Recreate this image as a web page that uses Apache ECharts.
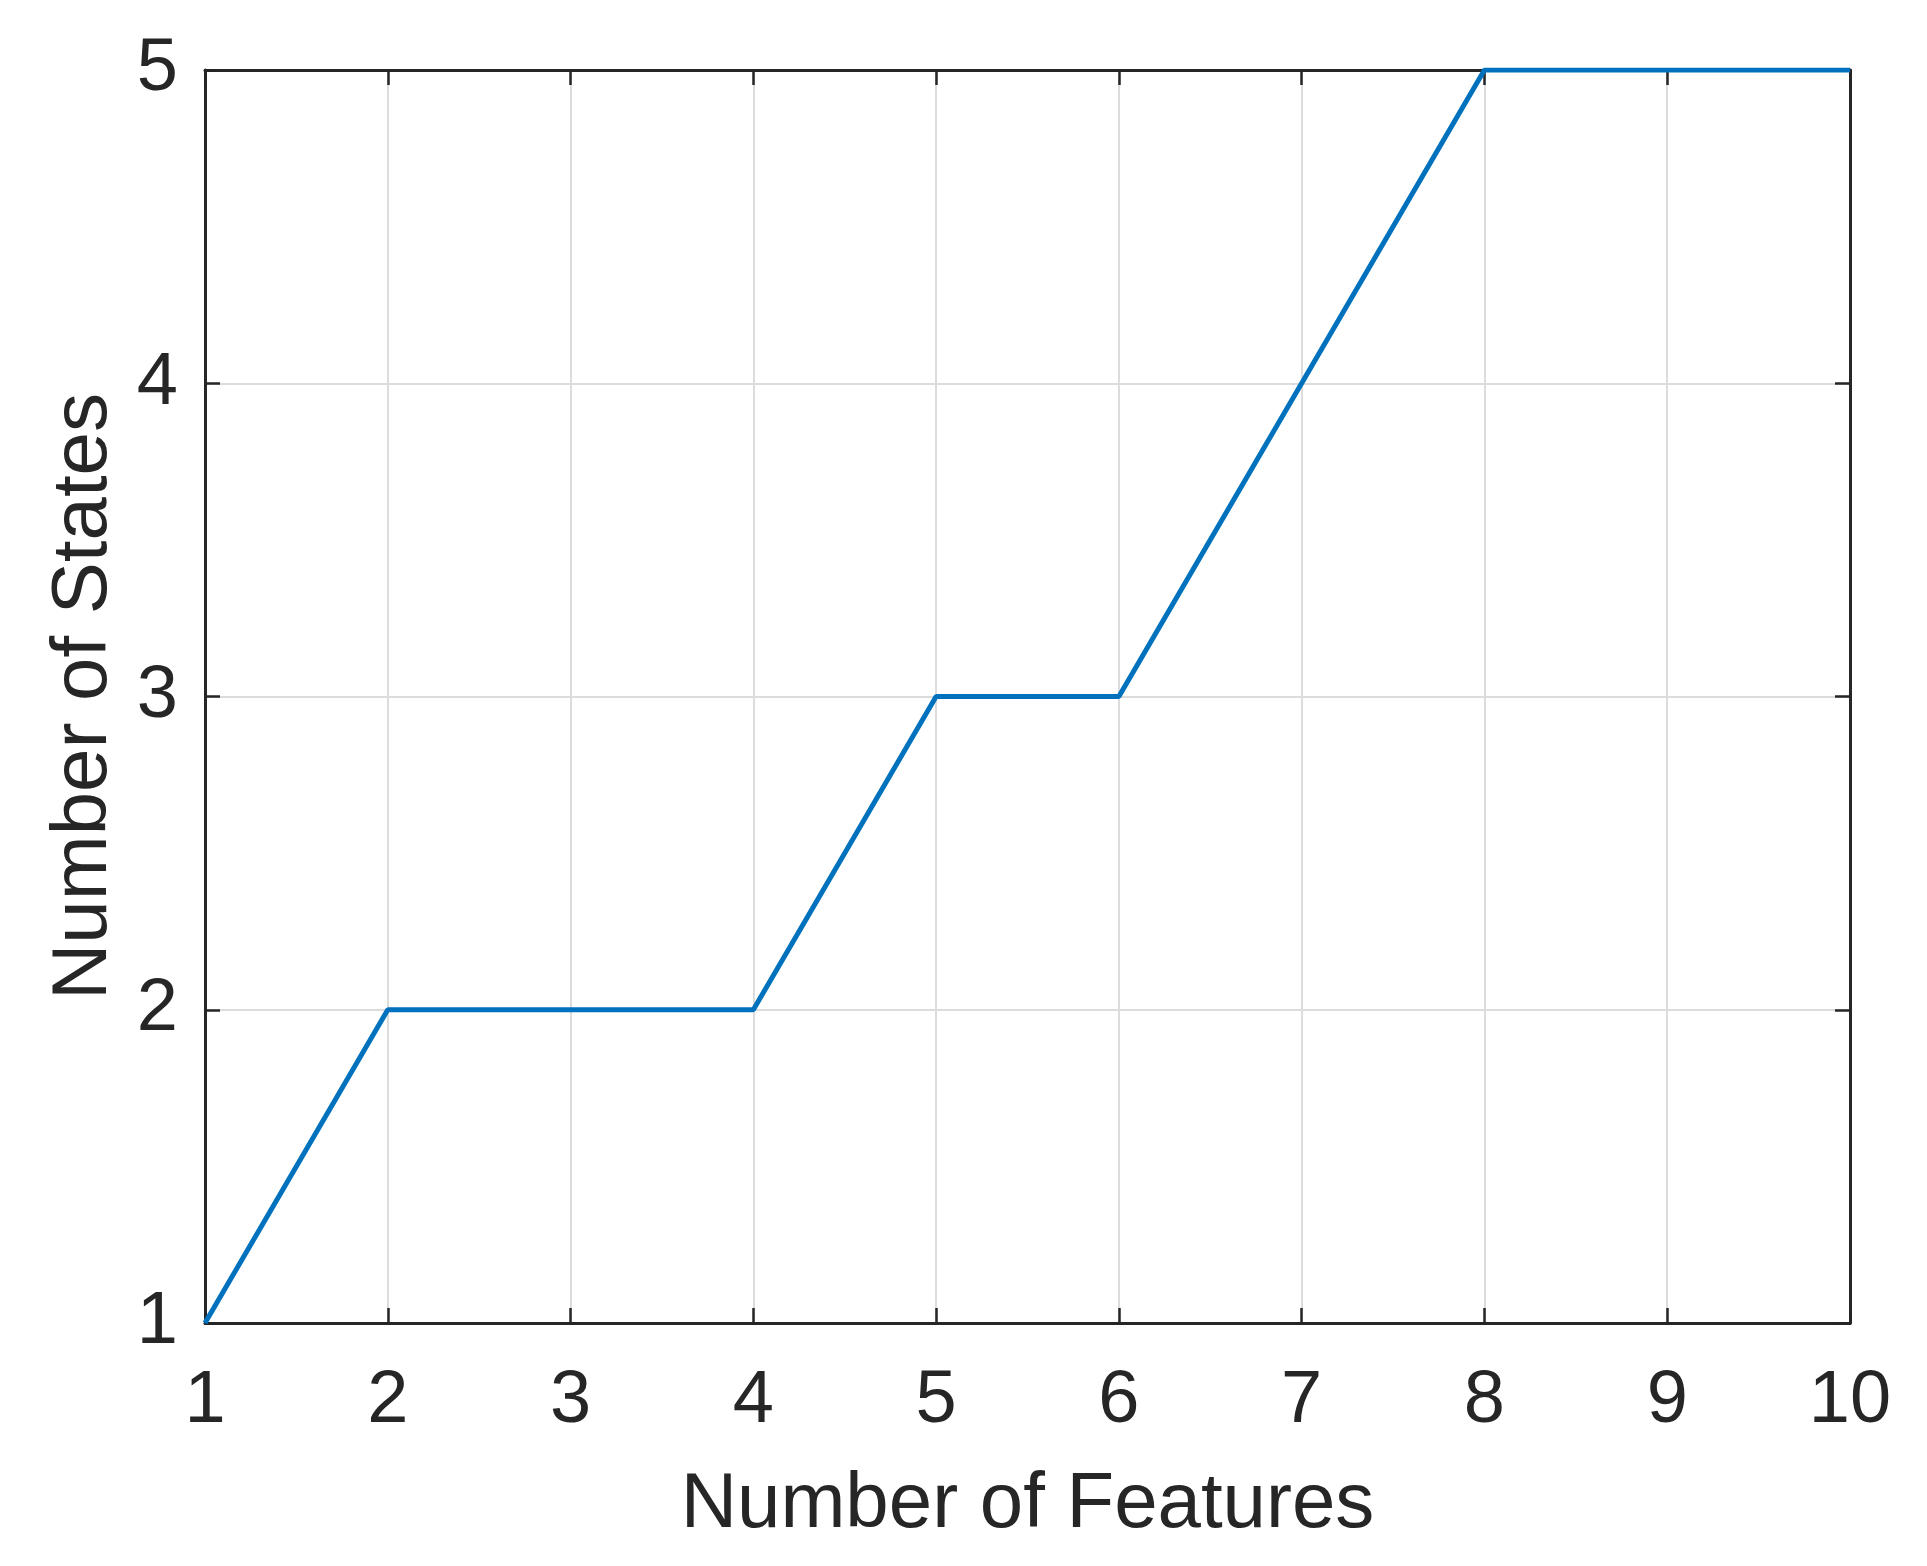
<!DOCTYPE html>
<html>
<head>
<meta charset="utf-8">
<script src="https://cdn.jsdelivr.net/npm/echarts@6/dist/echarts.min.js"></script>
<style>
  html, body { margin: 0; padding: 0; background: #fff; }
  #chart { width: 1927px; height: 1566px; }
</style>
</head>
<body>
<div id="chart"></div>
<script>
// data
const features = [1, 2, 3, 4, 5, 6, 7, 8, 9, 10];
const states = [1, 2, 2, 2, 3, 3, 4, 5, 5, 5];
const xTicks = { min: 1, max: 10, step: 1 };
const yTicks = { min: 1, max: 5, step: 1 };

const axisColor = "#262626";
const fontFamily = "Liberation Sans, Arial, sans-serif";

// box axis (top / right) just carrying inside ticks
function boxAxis(extra, range) {
  return Object.assign({
    type: "value",
    min: range.min,
    max: range.max,
    interval: range.step,
    axisLine: { show: true, lineStyle: { color: axisColor, width: 3 } },
    axisTick: { show: true, inside: true, length: 15, lineStyle: { color: axisColor, width: 2.5 } },
    axisLabel: { show: false },
    splitLine: { show: false }
  }, extra);
}

const chart = echarts.init(document.getElementById("chart"));
chart.setOption({
  backgroundColor: "#fff",
  animation: false,
  grid: { left: 205, right: 77, top: 70, bottom: 243 },
  xAxis: [
    {
      type: "value",
      min: xTicks.min,
      max: xTicks.max,
      interval: xTicks.step,
      name: "Number of Features",
      nameLocation: "middle",
      nameGap: 143,
      nameTextStyle: { fontSize: 78, color: axisColor, fontFamily: fontFamily },
      axisLine: { show: true, onZero: false, lineStyle: { color: axisColor, width: 3 } },
      axisTick: { show: true, inside: true, length: 15, lineStyle: { color: axisColor, width: 2.5 } },
      axisLabel: { fontSize: 74, color: axisColor, fontFamily: fontFamily, margin: 42 },
      splitLine: { show: true, lineStyle: { color: "#dcdcdc", width: 2 } }
    },
    boxAxis({ position: "top" }, xTicks)
  ],
  yAxis: [
    {
      type: "value",
      min: yTicks.min,
      max: yTicks.max,
      interval: yTicks.step,
      name: "Number of States",
      nameLocation: "middle",
      nameGap: 82,
      nameTextStyle: { fontSize: 78, color: axisColor, fontFamily: fontFamily },
      axisLine: { show: true, onZero: false, lineStyle: { color: axisColor, width: 3 } },
      axisTick: { show: true, inside: true, length: 15, lineStyle: { color: axisColor, width: 2.5 } },
      axisLabel: { fontSize: 74, color: axisColor, fontFamily: fontFamily, margin: 27 },
      splitLine: { show: true, lineStyle: { color: "#dcdcdc", width: 2 } }
    },
    boxAxis({ position: "right" }, yTicks)
  ],
  series: [
    {
      type: "line",
      data: features.map((f, i) => [f, states[i]]),
      showSymbol: false,
      z: 10,
      lineStyle: { color: "#0072BD", width: 5 }
    }
  ]
});
</script>
</body>
</html>
